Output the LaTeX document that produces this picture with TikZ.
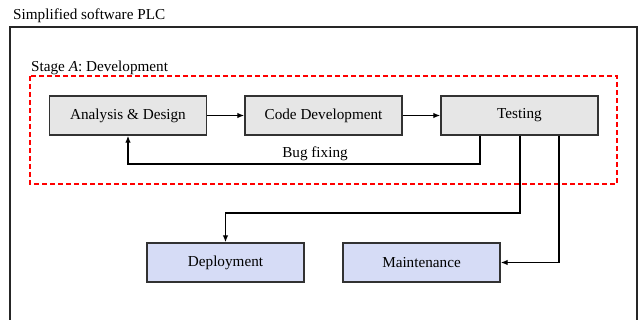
\documentclass[tikz,border=0pt]{standalone}
\usepackage{fontspec}
\setmainfont{Liberation Serif}
\usetikzlibrary{arrows.meta}
\definecolor{devfill}{RGB}{230,230,230}
\definecolor{opsfill}{RGB}{214,220,246}
\definecolor{boxline}{RGB}{50,50,50}
\begin{document}
\begin{tikzpicture}[x=1pt,y=-1pt,
  every node/.style={font=\fontsize{15.2}{18}\selectfont},
  phase/.style={draw=boxline,line width=1.4pt,minimum width=157pt,minimum height=39pt,inner sep=0pt},
  devbox/.style={phase,fill=devfill},
  opsbox/.style={phase,fill=opsfill},
  flow/.style={line width=1.3pt,-{Latex[length=7pt,width=5.5pt]}},
  caption/.style={anchor=base west,inner sep=0pt}]
\useasboundingbox (0,0) rectangle (643,320);

% outer frame and development stage frame
\draw[line width=1.5pt,draw=black!85] (10,27) rectangle (637,345);
\draw[red,line width=1.4pt,dash pattern=on 5pt off 3pt] (30,76) rectangle (617,184);

\node[caption] (title) at (13,19.5) {Simplified software PLC};
\node[caption] (stage) at (31,71.5) {Stage \textit{A}: Development};

% process steps
\node[devbox] (ad) at (128,115.5) {Analysis \& Design};
\node[devbox] (cd) at (323.5,115.5) {Code Development};
\node[devbox] (test) at (519.5,115.5) {Testing};
\node[opsbox] (dep) at (225.5,262.5) {Deployment};
\node[opsbox] (mnt) at (421.5,262.5) {Maintenance};

% routing points
\coordinate (bf) at (480,164);
\coordinate (dp) at (520,213);
\coordinate (mt) at (559,263);

\draw[flow] (ad) -- (cd);
\draw[flow] (cd) -- (test);
\draw[flow] (test.south -| bf) -- (bf) -| (ad.south);
\node (bug) at (315,154) {Bug fixing};
\draw[flow] (test.south -| dp) -- (dp) -| (dep.north);
\draw[flow] (test.south -| mt) |- (mnt.east);
\end{tikzpicture}
\end{document}
